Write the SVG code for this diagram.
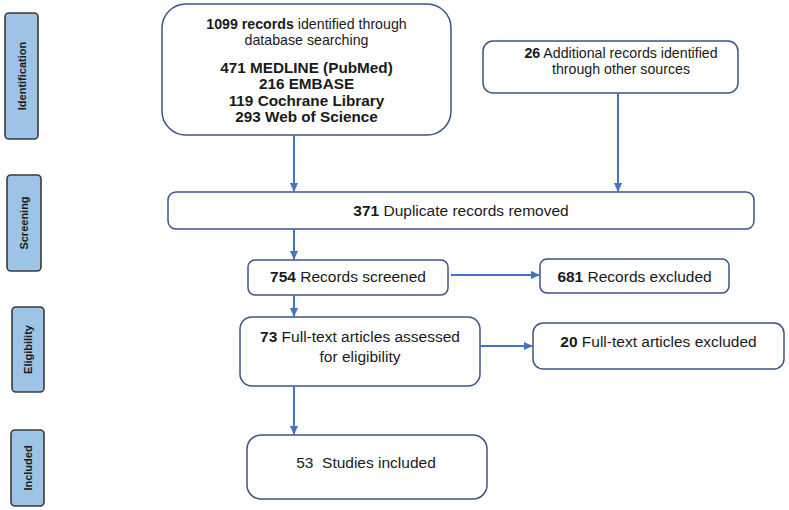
<svg xmlns="http://www.w3.org/2000/svg" width="789" height="510" viewBox="0 0 789 510">
<defs>
<marker id="ah" markerUnits="userSpaceOnUse" markerWidth="9" markerHeight="8" refX="9" refY="4" orient="auto">
<path d="M0,0 L9,4 L0,8 z" fill="#4472c4"/>
</marker>
<style>
.stage rect{fill:#9dc3e6;stroke:#3a3a3a;stroke-width:1.6}
.stage text{font-family:"Liberation Sans",Arial,sans-serif;font-weight:bold;font-size:11px;fill:#1a1a1a;text-anchor:middle}
.box rect{fill:#fff;stroke:#3b5384;stroke-width:1.5}
.a{font-family:"Liberation Sans",Arial,sans-serif;font-size:14.2px;fill:#1a1a1a;text-anchor:middle}
.c{font-family:"Liberation Sans",Arial,sans-serif;font-size:15.5px;fill:#1a1a1a;text-anchor:middle}
.cb{font-family:"Liberation Sans",Arial,sans-serif;font-size:15.3px;font-weight:bold;fill:#1a1a1a;text-anchor:middle}
.b{font-weight:bold}
#connectors path{fill:none;stroke:#4472c4;stroke-width:2;marker-end:url(#ah)}
</style>
</defs>
<rect width="789" height="510" fill="#fff"/>

<g id="stage-identification" class="stage">
<rect x="5" y="13" width="33" height="126" rx="4"/>
<text transform="translate(25.5,76) rotate(-90)">Identification</text>
</g>
<g id="stage-screening" class="stage">
<rect x="7" y="175" width="34" height="96" rx="4"/>
<text transform="translate(27.5,223) rotate(-90)">Screening</text>
</g>
<g id="stage-eligibility" class="stage">
<rect x="12" y="307" width="32" height="85" rx="4"/>
<text transform="translate(31.5,349.5) rotate(-90)">Eligibility</text>
</g>
<g id="stage-included" class="stage">
<rect x="11" y="430" width="33" height="76" rx="4"/>
<text transform="translate(31.5,468) rotate(-90)">Included</text>
</g>

<g id="db-records" class="box">
<rect x="162" y="4" width="289" height="131" rx="24"/>
<text class="a" x="306.5" y="28.5"><tspan class="b">1099 records</tspan> identified through</text>
<text class="a" x="306.5" y="45">database searching</text>
<text class="cb" x="306.5" y="72.5">471 MEDLINE (PubMed)</text>
<text class="cb" x="306.5" y="89">216 EMBASE</text>
<text class="cb" x="306.5" y="105.5">119 Cochrane Library</text>
<text class="cb" x="306.5" y="122">293 Web of Science</text>
</g>

<g id="other-records" class="box">
<rect x="483" y="41" width="255" height="52" rx="10"/>
<text class="a" x="621" y="58"><tspan class="b">26</tspan> Additional records identified</text>
<text class="a" x="621" y="74">through other sources</text>
</g>

<g id="duplicates" class="box">
<rect x="168" y="192" width="586" height="37" rx="8"/>
<text class="c" x="461" y="215.5"><tspan class="b">371</tspan> Duplicate records removed</text>
</g>

<g id="screened" class="box">
<rect x="248" y="260" width="200" height="35" rx="7"/>
<text class="c" x="348" y="281.5"><tspan class="b">754</tspan> Records screened</text>
</g>

<g id="excluded" class="box">
<rect x="540" y="259" width="189" height="34" rx="7"/>
<text class="c" x="634.5" y="281.5"><tspan class="b">681</tspan> Records excluded</text>
</g>

<g id="fulltext" class="box">
<rect x="240" y="317" width="240" height="69" rx="12"/>
<text class="c" x="360" y="342"><tspan class="b">73</tspan> Full-text articles assessed</text>
<text class="c" x="360" y="362">for eligibility</text>
</g>

<g id="fulltext-excluded" class="box">
<rect x="533" y="323" width="251" height="46" rx="10"/>
<text class="c" x="658.5" y="346.5"><tspan class="b">20</tspan> Full-text articles excluded</text>
</g>

<g id="included" class="box">
<rect x="247" y="435" width="240" height="64" rx="14"/>
<text class="c" x="366" y="467.5" xml:space="preserve">53  Studies included</text>
</g>

<g id="connectors">
<path d="M294,135 V192"/>
<path d="M618,93 V192"/>
<path d="M294,229 V260"/>
<path d="M451,275 H540"/>
<path d="M294,295 V317"/>
<path d="M480,346 H533"/>
<path d="M294,386 V435"/>
</g>
</svg>
